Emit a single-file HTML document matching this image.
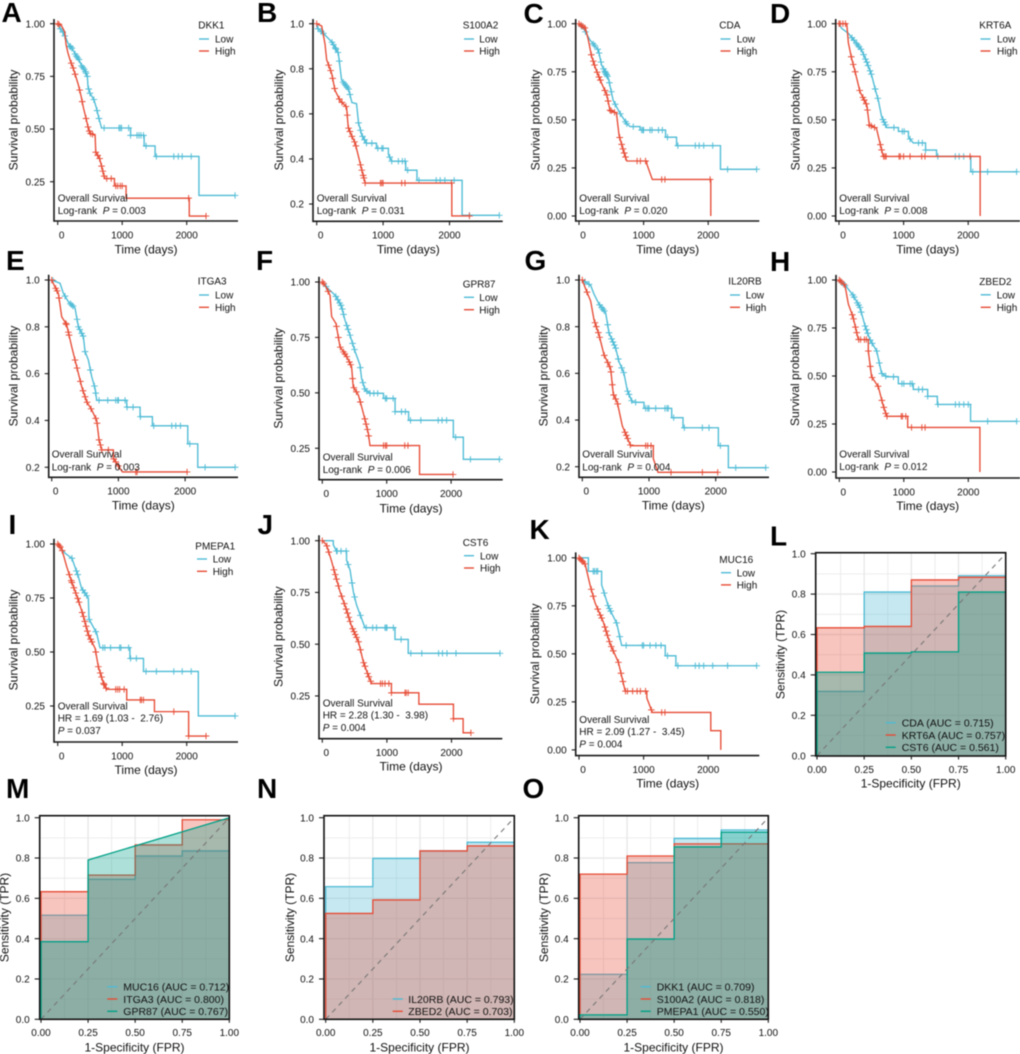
<!DOCTYPE html>
<html lang="en">
<head>
<meta charset="utf-8">
<title>Survival and ROC panels</title>
<style>
html,body{margin:0;padding:0;background:#fff;}
#figure{display:block;width:1020px;height:1054px;filter:blur(0.4px);}
#figure text{font-family:"Liberation Sans",Arial,sans-serif;fill:#111;font-size:10px;white-space:pre;}
#figure text.letter{font-size:28px;font-weight:bold;fill:#000;}
#figure text.title{font-size:12px;text-anchor:middle;}
#figure text.auc{font-size:10.5px;}
#figure text.tick{font-size:10px;}
</style>
</head>
<body>
<svg id="figure" xmlns="http://www.w3.org/2000/svg" width="1020" height="1054" viewBox="0 0 1020 1054">
<rect x="0" y="0" width="1020" height="1054" fill="#fff"/>

<g>
<g id="plot-a"></g>
<text class="letter" x="1.5" y="22">A</text>
<text class="title" transform="translate(17.5,120) rotate(-90)">Survival probability</text>
<text class="title" x="146" y="253.5">Time (days)</text>
<text x="198.3" y="28.6">DKK1</text>
<line x1="199" x2="209" y1="39" y2="39" stroke="#4DBBD5" stroke-width="1.4"/>
<text x="215" y="42.6">Low</text>
<line x1="199" x2="209" y1="51" y2="51" stroke="#E64B35" stroke-width="1.4"/>
<text x="215" y="54.6">High</text>
<text x="57.7" y="201.3">Overall Survival</text>
<text x="57.7" y="213.9">Log-rank  <tspan font-style="italic">P</tspan> = 0.003</text>
</g>

<g>
<g id="plot-b"></g>
<text class="letter" x="257" y="22">B</text>
<text class="title" transform="translate(283,120) rotate(-90)">Survival probability</text>
<text class="title" x="408.3" y="253.5">Time (days)</text>
<text x="462.7" y="28.6">S100A2</text>
<line x1="464" x2="474" y1="39" y2="39" stroke="#4DBBD5" stroke-width="1.4"/>
<text x="479.3" y="42.6">Low</text>
<line x1="464" x2="474" y1="51" y2="51" stroke="#E64B35" stroke-width="1.4"/>
<text x="479.3" y="54.6">High</text>
<text x="316.7" y="201.3">Overall Survival</text>
<text x="316.7" y="213.9">Log-rank  <tspan font-style="italic">P</tspan> = 0.031</text>
</g>

<g>
<g id="plot-c"></g>
<text class="letter" x="523.5" y="23">C</text>
<text class="title" transform="translate(539.7,120) rotate(-90)">Survival probability</text>
<text class="title" x="667.7" y="253.5">Time (days)</text>
<text x="719.3" y="28.6">CDA</text>
<line x1="720.5" x2="730.5" y1="39" y2="39" stroke="#4DBBD5" stroke-width="1.4"/>
<text x="736.7" y="42.6">Low</text>
<line x1="720.5" x2="730.5" y1="51" y2="51" stroke="#E64B35" stroke-width="1.4"/>
<text x="736.7" y="54.6">High</text>
<text x="579.3" y="201.3">Overall Survival</text>
<text x="579.3" y="213.9">Log-rank  <tspan font-style="italic">P</tspan> = 0.020</text>
</g>

<g>
<g id="plot-d"></g>
<text class="letter" x="770" y="23">D</text>
<text class="title" transform="translate(799.7,120) rotate(-90)">Survival probability</text>
<text class="title" x="927.7" y="253.5">Time (days)</text>
<text x="979.3" y="28.6">KRT6A</text>
<line x1="980.5" x2="990.5" y1="39" y2="39" stroke="#4DBBD5" stroke-width="1.4"/>
<text x="997" y="42.6">Low</text>
<line x1="980.5" x2="990.5" y1="51" y2="51" stroke="#E64B35" stroke-width="1.4"/>
<text x="997" y="54.6">High</text>
<text x="839.3" y="201.3">Overall Survival</text>
<text x="839.3" y="213.9">Log-rank  <tspan font-style="italic">P</tspan> = 0.008</text>
</g>

<g>
<g id="plot-e"></g>
<text class="letter" x="6" y="270">E</text>
<text class="title" transform="translate(17.5,376) rotate(-90)">Survival probability</text>
<text class="title" x="143.3" y="509.7">Time (days)</text>
<text x="197.7" y="284.3">ITGA3</text>
<line x1="199" x2="209" y1="295" y2="295" stroke="#4DBBD5" stroke-width="1.4"/>
<text x="215" y="298.6">Low</text>
<line x1="199" x2="209" y1="307.3" y2="307.3" stroke="#E64B35" stroke-width="1.4"/>
<text x="215" y="310.9">High</text>
<text x="51.7" y="457.6">Overall Survival</text>
<text x="51.7" y="470.3">Log-rank  <tspan font-style="italic">P</tspan> = 0.003</text>
</g>

<g>
<g id="plot-f"></g>
<text class="letter" x="256" y="270">F</text>
<text class="title" transform="translate(282.3,378.3) rotate(-90)">Survival probability</text>
<text class="title" x="411" y="512.3">Time (days)</text>
<text x="462.7" y="287.6">GPR87</text>
<line x1="464" x2="474" y1="297.3" y2="297.3" stroke="#4DBBD5" stroke-width="1.4"/>
<text x="479.3" y="300.9">Low</text>
<line x1="464" x2="474" y1="309.7" y2="309.7" stroke="#E64B35" stroke-width="1.4"/>
<text x="479.3" y="313.3">High</text>
<text x="322.7" y="460.3">Overall Survival</text>
<text x="322.7" y="472.9">Log-rank  <tspan font-style="italic">P</tspan> = 0.006</text>
</g>

<g>
<g id="plot-g"></g>
<text class="letter" x="524.5" y="270">G</text>
<text class="title" transform="translate(547.3,376) rotate(-90)">Survival probability</text>
<text class="title" x="673.3" y="509.7">Time (days)</text>
<text x="728.3" y="284.3">IL20RB</text>
<line x1="730" x2="740" y1="295" y2="295" stroke="#4DBBD5" stroke-width="1.4"/>
<text x="745.7" y="298.6">Low</text>
<line x1="730" x2="740" y1="307.3" y2="307.3" stroke="#E64B35" stroke-width="1.4"/>
<text x="745.7" y="310.9">High</text>
<text x="582.3" y="457.6">Overall Survival</text>
<text x="582.3" y="470.3">Log-rank  <tspan font-style="italic">P</tspan> = 0.004</text>
</g>

<g>
<g id="plot-h"></g>
<text class="letter" x="770" y="271">H</text>
<text class="title" transform="translate(799,375.6) rotate(-90)">Survival probability</text>
<text class="title" x="927.7" y="509.8">Time (days)</text>
<text x="979.3" y="284.9">ZBED2</text>
<line x1="980.7" x2="990.7" y1="294.8" y2="294.8" stroke="#4DBBD5" stroke-width="1.4"/>
<text x="996.7" y="298.4">Low</text>
<line x1="980.7" x2="990.7" y1="307.3" y2="307.3" stroke="#E64B35" stroke-width="1.4"/>
<text x="996.7" y="310.9">High</text>
<text x="839.3" y="457.6">Overall Survival</text>
<text x="839.3" y="470.2">Log-rank  <tspan font-style="italic">P</tspan> = 0.012</text>
</g>

<g>
<g id="plot-i"></g>
<text class="letter" x="8.5" y="534">I</text>
<text class="title" transform="translate(17.5,640) rotate(-90)">Survival probability</text>
<text class="title" x="146" y="774">Time (days)</text>
<text x="195.3" y="549.3">PMEPA1</text>
<line x1="197" x2="207" y1="559" y2="559" stroke="#4DBBD5" stroke-width="1.4"/>
<text x="212.7" y="562.6">Low</text>
<line x1="197" x2="207" y1="571.3" y2="571.3" stroke="#E64B35" stroke-width="1.4"/>
<text x="212.7" y="574.9">High</text>
<text x="57.7" y="709.3">Overall Survival</text>
<text x="57.7" y="721.6">HR = 1.69 (1.03 -  2.76)</text>
<text x="57.7" y="733.9"><tspan font-style="italic">P</tspan> = 0.037</text>
</g>

<g>
<g id="plot-j"></g>
<text class="letter" x="257.5" y="534">J</text>
<text class="title" transform="translate(282.3,636.7) rotate(-90)">Survival probability</text>
<text class="title" x="411" y="770.7">Time (days)</text>
<text x="462.7" y="545.9">CST6</text>
<line x1="464" x2="474" y1="555.7" y2="555.7" stroke="#4DBBD5" stroke-width="1.4"/>
<text x="480" y="559.3">Low</text>
<line x1="464" x2="474" y1="568" y2="568" stroke="#E64B35" stroke-width="1.4"/>
<text x="480" y="571.6">High</text>
<text x="322.7" y="706.3">Overall Survival</text>
<text x="322.7" y="718.6">HR = 2.28 (1.30 -  3.98)</text>
<text x="322.7" y="730.9"><tspan font-style="italic">P</tspan> = 0.004</text>
</g>

<g>
<g id="plot-k"></g>
<text class="letter" x="529.5" y="539">K</text>
<text class="title" transform="translate(539,653.8) rotate(-90)">Survival probability</text>
<text class="title" x="667.7" y="787.3">Time (days)</text>
<text x="719.3" y="562.8">MUC16</text>
<line x1="721" x2="731" y1="572.7" y2="572.7" stroke="#4DBBD5" stroke-width="1.4"/>
<text x="736.7" y="576.3">Low</text>
<line x1="721" x2="731" y1="584.9" y2="584.9" stroke="#E64B35" stroke-width="1.4"/>
<text x="736.7" y="588.5">High</text>
<text x="579.3" y="723">Overall Survival</text>
<text x="579.3" y="735.2">HR = 2.09 (1.27 -  3.45)</text>
<text x="579.3" y="747.7"><tspan font-style="italic">P</tspan> = 0.004</text>
</g>

<g>
<g id="plot-l"></g>
<text class="letter" x="770" y="545.5">L</text>
<text class="title" transform="translate(784.7,654.5) rotate(-90)">Sensitivity (TPR)</text>
<text class="title" x="910.7" y="787.3">1-Specificity (FPR)</text>
<line x1="885.7" x2="895.7" y1="722.7" y2="722.7" stroke="#4DBBD5" stroke-width="1.4"/>
<text class="auc" x="901.7" y="726.5">CDA (AUC = 0.715)</text>
<line x1="885.7" x2="895.7" y1="735" y2="735" stroke="#E64B35" stroke-width="1.4"/>
<text class="auc" x="901.7" y="738.8">KRT6A (AUC = 0.757)</text>
<line x1="885.7" x2="895.7" y1="747.3" y2="747.3" stroke="#00A087" stroke-width="1.4"/>
<text class="auc" x="901.7" y="751.1">CST6 (AUC = 0.561)</text>
</g>

<g>
<g id="plot-m"></g>
<text class="letter" x="6" y="798">M</text>
<text class="title" transform="translate(8.7,917.5) rotate(-90)">Sensitivity (TPR)</text>
<text class="title" x="134.5" y="1051.5">1-Specificity (FPR)</text>
<line x1="107.3" x2="117.3" y1="986.7" y2="986.7" stroke="#4DBBD5" stroke-width="1.4"/>
<text class="auc" x="123.3" y="990.5">MUC16 (AUC = 0.712)</text>
<line x1="107.3" x2="117.3" y1="999" y2="999" stroke="#E64B35" stroke-width="1.4"/>
<text class="auc" x="123.3" y="1002.8">ITGA3 (AUC = 0.800)</text>
<line x1="107.3" x2="117.3" y1="1011.3" y2="1011.3" stroke="#00A087" stroke-width="1.4"/>
<text class="auc" x="123.3" y="1015.1">GPR87 (AUC = 0.767)</text>
</g>

<g>
<g id="plot-n"></g>
<text class="letter" x="257" y="798">N</text>
<text class="title" transform="translate(294,917.5) rotate(-90)">Sensitivity (TPR)</text>
<text class="title" x="419.5" y="1051.5">1-Specificity (FPR)</text>
<line x1="392.7" x2="402.7" y1="999" y2="999" stroke="#4DBBD5" stroke-width="1.4"/>
<text class="auc" x="408.3" y="1002.8">IL20RB (AUC = 0.793)</text>
<line x1="392.7" x2="402.7" y1="1011.3" y2="1011.3" stroke="#E64B35" stroke-width="1.4"/>
<text class="auc" x="408.3" y="1015.1">ZBED2 (AUC = 0.703)</text>
</g>

<g>
<g id="plot-o"></g>
<text class="letter" x="522.5" y="798">O</text>
<text class="title" transform="translate(548,917.5) rotate(-90)">Sensitivity (TPR)</text>
<text class="title" x="673.5" y="1051.5">1-Specificity (FPR)</text>
<line x1="640.7" x2="650.7" y1="986.7" y2="986.7" stroke="#4DBBD5" stroke-width="1.4"/>
<text class="auc" x="656.7" y="990.5">DKK1 (AUC = 0.709)</text>
<line x1="640.7" x2="650.7" y1="999" y2="999" stroke="#E64B35" stroke-width="1.4"/>
<text class="auc" x="656.7" y="1002.8">S100A2 (AUC = 0.818)</text>
<line x1="640.7" x2="650.7" y1="1011.3" y2="1011.3" stroke="#00A087" stroke-width="1.4"/>
<text class="auc" x="656.7" y="1015.1">PMEPA1 (AUC = 0.550)</text>
</g>
</svg>

<script>
/* ---------- Kaplan-Meier values ---------- */
const timeTicks = [0, 1000, 2000];
const survTicksQuarterFrom25 = [1, 0.75, 0.5, 0.25];
const survTicksFifthFrom20 = [1, 0.8, 0.6, 0.4, 0.2];
const survTicksQuarterFrom0 = [1, 0.75, 0.5, 0.25, 0];

const dkk1LowDays = [0,30,80,130,170,230,280,330,370,420,460,470,500,560,600,640,680,1130,1340,1510,2190,2750];
const dkk1LowSurv = [1,.98,.96,.93,.90,.88,.85,.83,.80,.78,.75,.70,.67,.64,.60,.55,.505,.47,.42,.37,.185,.185];
const dkk1LowCensor = [40,80,110,190,200,220,270,290,310,330,370,390,410,430,440,460,480,500,560,610,640,720,950,970,990,1100,1130,1230,1260,1290,1330,1370,1530,1800,1870,1930,2070,2750];
const dkk1HighDays = [0,60,110,130,160,200,240,280,320,360,400,440,470,500,580,590,650,700,730,880,1060,2040,2300];
const dkk1HighSurv = [1,.99,.96,.90,.86,.82,.79,.75,.71,.66,.60,.55,.51,.48,.47,.39,.36,.30,.265,.23,.172,.087,.087];
const dkk1HighCensor = [0,20,210,240,270,340,380,440,470,490,510,540,590,620,650,680,700,720,760,830,900,930,970,1000,2030,2300];

const s100a2LowDays = [0,10,100,225,325,375,480,530,600,630,680,750,900,1080,1130,1340,1510,2190,2750];
const s100a2LowSurv = [1,.98,.957,.92,.87,.75,.71,.65,.645,.56,.505,.47,.447,.42,.39,.35,.305,.15,.15];
const s100a2LowCensor = [20,70,100,230,250,280,290,320,340,400,420,440,460,480,500,630,660,690,720,750,830,920,980,1000,1100,1130,1230,1290,1330,1370,1540,1800,1860,1930,2070,2300,2750];
const s100a2HighDays = [0,75,125,150,225,275,350,450,475,530,580,630,680,730,2035,2300];
const s100a2HighSurv = [1,.99,.91,.84,.78,.705,.66,.63,.54,.50,.47,.41,.35,.293,.147,.147];
const s100a2HighCensor = [0,180,210,240,270,340,380,440,460,480,500,530,570,590,660,680,700,710,730,960,980,1000,1280,1330,2030,2300];

const cdaLowDays = [0,70,170,300,350,455,530,635,740,790,945,1340,1510,2190,2750];
const cdaLowSurv = [1,.976,.915,.863,.785,.716,.60,.534,.48,.465,.447,.41,.366,.243,.243];
const cdaLowCensor = [40,100,220,240,290,310,340,380,400,410,420,430,440,470,500,560,640,720,740,840,970,990,1000,1100,1130,1230,1290,1370,1530,1800,1860,1930,2070,2300,2750];
const cdaHighDays = [0,100,145,195,265,350,430,480,580,620,685,740,1050,1135,2040];
const cdaHighSurv = [1,.976,.915,.83,.76,.69,.63,.55,.534,.42,.343,.286,.27,.19,0];
const cdaHighCensor = [0,30,60,90,190,220,240,280,310,330,400,430,450,480,500,550,630,660,680,700,720,900,950,1030,1280,1330,2030];

const krt6aLowDays = [0,40,145,250,350,430,505,557,610,660,740,920,1075,1150,1340,1510,2040,2750];
const krt6aLowSurv = [1,.976,.95,.906,.863,.80,.733,.664,.60,.516,.46,.44,.41,.38,.343,.31,.23,.23];
const krt6aLowCensor = [200,230,270,290,310,340,380,410,430,450,480,500,560,600,680,700,720,850,980,1010,1100,1230,1290,1340,1530,1800,1860,1930,2070,2300,2750];
const krt6aHighDays = [0,120,145,195,250,325,430,470,580,635,685,2185];
const krt6aHighSurv = [1,1,.90,.82,.75,.646,.577,.473,.456,.378,.31,0];
const krt6aHighCensor = [0,20,60,100,190,220,250,320,370,390,420,440,470,500,550,640,660,690,710,730,930,950,1000,1100,1280,1330,2030];

const itga3LowDays = [0,125,175,250,350,400,475,500,550,600,650,675,1125,1325,1510,2040,2190,2750];
const itga3LowSurv = [1,.986,.943,.907,.88,.80,.758,.694,.658,.587,.537,.486,.457,.416,.377,.30,.20,.20];
const itga3LowCensor = [20,200,280,300,320,380,400,420,450,470,500,580,640,660,710,840,960,990,1000,1100,1130,1220,1330,1530,1800,1860,1930,2070,2300,2750];
const itga3HighDays = [0,50,100,150,225,300,350,450,525,600,675,710,750,925,1060,2030];
const itga3HighSurv = [1,.97,.943,.843,.808,.715,.658,.544,.48,.445,.40,.317,.274,.238,.18,.18];
const itga3HighCensor = [0,60,80,110,210,220,250,260,350,380,430,470,500,530,590,660,680,710,730,750,850,930,960,1000,1260,1280,2030];

const gpr87LowDays = [0,90,200,300,350,430,510,585,610,665,740,950,1130,1340,2035,2190,2750];
const gpr87LowSurv = [1,.97,.94,.89,.83,.76,.686,.626,.565,.513,.498,.475,.415,.376,.30,.20,.20];
const gpr87LowCensor = [60,210,240,270,290,310,330,380,400,430,470,500,590,630,660,690,740,800,860,980,1000,1100,1130,1230,1290,1370,1530,1800,1860,1930,2070,2300,2750];
const gpr87HighDays = [0,40,120,145,212,275,380,455,480,560,610,665,715,740,1510,2030];
const gpr87HighSurv = [1,.987,.94,.844,.813,.708,.663,.618,.528,.49,.438,.377,.317,.262,.132,.132];
const gpr87HighCensor = [0,20,90,220,250,280,330,350,380,420,440,470,490,530,590,660,680,700,720,950,980,1000,1280,1330,2030];

const il20rbLowDays = [0,125,175,250,350,400,500,550,625,675,750,925,1340,1510,2040,2190,2750];
const il20rbLowSurv = [1,.977,.94,.897,.86,.774,.708,.65,.60,.527,.476,.45,.41,.367,.29,.196,.196];
const il20rbLowCensor = [40,100,260,290,310,330,380,400,440,460,480,500,540,590,620,680,700,740,800,950,980,1000,1100,1240,1270,1290,1370,1530,1800,1900,2070,2300,2750];
const il20rbHighDays = [0,50,125,175,250,325,425,465,525,600,725,1065,1135,2030];
const il20rbHighSurv = [1,.962,.91,.83,.766,.68,.62,.51,.476,.375,.29,.234,.176,.176];
const il20rbHighCensor = [0,70,190,210,240,260,330,380,410,430,450,470,500,530,640,660,680,720,950,980,1030,1330,1800,2030];

const zbed2LowDays = [0,115,215,320,400,475,580,655,735,915,1147,1370,1520,2035,2750];
const zbed2LowSurv = [1,.963,.92,.857,.76,.69,.63,.514,.496,.46,.43,.394,.352,.264,.264];
const zbed2LowCensor = [40,90,210,230,280,300,320,340,400,420,440,480,510,580,620,660,720,840,970,1000,1100,1130,1230,1290,1370,1530,1800,1860,1930,2000,2300,2750];
const zbed2HighDays = [0,88,140,215,295,450,500,605,680,735,1060,2180];
const zbed2HighSurv = [1,.972,.875,.805,.69,.63,.497,.444,.347,.29,.232,0];
const zbed2HighCensor = [0,20,70,200,220,250,270,300,330,390,420,450,480,510,600,660,690,720,740,960,980,1030,1120,1280,1330];

const pmepa1LowDays = [0,115,220,320,370,475,485,605,655,1120,1330,2180,2750];
const pmepa1LowSurv = [1,.957,.934,.85,.795,.75,.653,.586,.52,.47,.41,.204,.204];
const pmepa1LowCensor = [220,290,310,390,420,450,490,590,700,730,820,960,980,1100,1130,1220,1370,1530,1800,1930,2070,2750];
const pmepa1HighDays = [0,60,140,215,320,400,475,580,630,710,760,1070,1500,2030,2300];
const pmepa1HighSurv = [1,.98,.895,.826,.74,.664,.58,.517,.432,.355,.327,.278,.224,.111,.111];
const pmepa1HighCensor = [0,20,40,70,180,210,220,250,280,310,330,380,400,420,440,460,480,510,530,590,630,660,680,710,720,750,900,930,960,1030,1280,1300,1330,1800,2030,2300];

const cst6LowDays = [0,170,220,375,430,480,530,660,1125,1330,2750];
const cst6LowSurv = [1,.98,.95,.907,.858,.754,.69,.58,.523,.456,.456];
const cst6LowCensor = [220,230,290,370,400,460,500,590,680,780,840,970,990,1000,1100,1220,1370,1540,1800,1860,1930,2070,2750];
const cst6HighDays = [0,65,145,195,275,375,455,560,635,710,765,1070,1495,2030,2180,2300];
const cst6HighSurv = [1,.98,.9,.842,.754,.665,.585,.512,.415,.35,.31,.265,.21,.14,.072,.072];
const cst6HighCensor = [0,70,100,180,200,220,250,300,340,370,390,410,430,470,490,510,530,560,590,640,660,700,720,750,900,930,970,1030,1070,1280,1300,1330,2030,2300];

const muc16LowDays = [0,145,350,455,585,660,1335,1500,2750];
const muc16LowSurv = [1,.93,.86,.746,.658,.544,.49,.438,.438];
const muc16LowCensor = [220,240,270,290,390,450,470,490,580,630,730,980,1000,1100,1190,1270,1370,1530,1800,1860,1930,2070,2300,2750];
const muc16HighDays = [0,95,170,250,375,480,610,715,1050,1135,2040,2195];
const muc16HighSurv = [1,.967,.86,.764,.667,.553,.456,.306,.27,.195,.1,0];
const muc16HighCensor = [0,20,40,60,90,190,220,290,330,350,400,420,440,470,500,530,610,650,680,720,750,830,900,950,1030,1120,1280,1330];

/* ---------- ROC values ---------- */
const rocTicksX = [0, 0.25, 0.5, 0.75, 1];
const rocTicksY = [0, 0.2, 0.4, 0.6, 0.8, 1];
const stepFpr = [0, 0, 0.25, 0.25, 0.5, 0.5, 0.75, 0.75, 1];

const cdaTpr = [0,.318,.318,.81,.81,.84,.84,.891,.891];
const krt6aTpr = [0,.633,.633,.64,.64,.87,.87,.883,.883];
const cst6Tpr = [0,.413,.413,.508,.508,.514,.514,.81,.81];
const muc16Tpr = [0,.516,.516,.694,.694,.81,.81,.835,.835];
const itga3Tpr = [0,.633,.633,.715,.715,.865,.865,.99,.99];
const gpr87Fpr = [0, 0, 0.25, 0.25, 1];
const gpr87Tpr = [0,.385,.385,.79,1];
const il20rbTpr = [0,.658,.658,.798,.798,.835,.835,.878,.878];
const zbed2Tpr = [0,.525,.525,.592,.592,.835,.835,.86,.86];
const dkk1Tpr = [0,.223,.223,.777,.777,.897,.897,.939,.939];
const s100a2Tpr = [0,.72,.72,.81,.81,.87,.87,.87,.87];
const pmepa1Tpr = [0,.022,.022,.398,.398,.855,.855,.928,.928];

/* ---------- panel layout (pixels) ---------- */
const kmPanels = [
 {id:'a',axisLeft:54,x0:57.7,perDay:.0645,right:238,top:19,bottom:221,y1:23.7,unit:210.7,dec:2,ticks:survTicksQuarterFrom25,lowT:dkk1LowDays,lowS:dkk1LowSurv,lowC:dkk1LowCensor,highT:dkk1HighDays,highS:dkk1HighSurv,highC:dkk1HighCensor},
 {id:'b',axisLeft:313,x0:316.7,perDay:.0664,right:502.7,top:19,bottom:221.3,y1:23.7,unit:225.4,dec:1,ticks:survTicksFifthFrom20,lowT:s100a2LowDays,lowS:s100a2LowSurv,lowC:s100a2LowCensor,highT:s100a2HighDays,highS:s100a2HighSurv,highC:s100a2HighCensor},
 {id:'c',axisLeft:575.7,x0:579,perDay:.0646,right:759.3,top:19,bottom:221,y1:23.7,unit:192.3,dec:2,ticks:survTicksQuarterFrom0,lowT:cdaLowDays,lowS:cdaLowSurv,lowC:cdaLowCensor,highT:cdaHighDays,highS:cdaHighSurv,highC:cdaHighCensor},
 {id:'d',axisLeft:835.7,x0:839,perDay:.0646,right:1020,top:19,bottom:221,y1:23.7,unit:192.3,dec:2,ticks:survTicksQuarterFrom0,lowT:krt6aLowDays,lowS:krt6aLowSurv,lowC:krt6aLowCensor,highT:krt6aHighDays,highS:krt6aHighSurv,highC:krt6aHighCensor},
 {id:'e',axisLeft:48.7,x0:51.7,perDay:.0667,right:238,top:274.7,bottom:477.3,y1:280,unit:234.1,dec:1,ticks:survTicksFifthFrom20,lowT:itga3LowDays,lowS:itga3LowSurv,lowC:itga3LowCensor,highT:itga3HighDays,highS:itga3HighSurv,highC:itga3HighCensor},
 {id:'f',axisLeft:319,x0:322.3,perDay:.0644,right:502.7,top:276.7,bottom:479.7,y1:282,unit:221.7,dec:2,ticks:survTicksQuarterFrom25,lowT:gpr87LowDays,lowS:gpr87LowSurv,lowC:gpr87LowCensor,highT:gpr87HighDays,highS:gpr87HighSurv,highC:gpr87HighCensor},
 {id:'g',axisLeft:579,x0:582.3,perDay:.0667,right:769,top:274.7,bottom:477.3,y1:280,unit:233.4,dec:1,ticks:survTicksFifthFrom20,lowT:il20rbLowDays,lowS:il20rbLowSurv,lowC:il20rbLowCensor,highT:il20rbHighDays,highS:il20rbHighSurv,highC:il20rbHighCensor},
 {id:'h',axisLeft:836,x0:839.3,perDay:.0645,right:1020,top:274.9,bottom:478,y1:280,unit:192,dec:2,ticks:survTicksQuarterFrom0,lowT:zbed2LowDays,lowS:zbed2LowSurv,lowC:zbed2LowCensor,highT:zbed2HighDays,highS:zbed2HighSurv,highC:zbed2HighCensor},
 {id:'i',axisLeft:54,x0:57.7,perDay:.0645,right:238,top:538.7,bottom:742,y1:544,unit:216,dec:2,ticks:survTicksQuarterFrom25,lowT:pmepa1LowDays,lowS:pmepa1LowSurv,lowC:pmepa1LowCensor,highT:pmepa1HighDays,highS:pmepa1HighSurv,highC:pmepa1HighCensor},
 {id:'j',axisLeft:319,x0:322.3,perDay:.0646,right:502.3,top:535.3,bottom:738.7,y1:540.7,unit:207,dec:2,ticks:survTicksQuarterFrom25,lowT:cst6LowDays,lowS:cst6LowSurv,lowC:cst6LowCensor,highT:cst6HighDays,highS:cst6HighSurv,highC:cst6HighCensor},
 {id:'k',axisLeft:575.7,x0:579,perDay:.0646,right:759.3,top:552.4,bottom:755.6,y1:557.8,unit:192.1,dec:2,ticks:survTicksQuarterFrom0,lowT:muc16LowDays,lowS:muc16LowSurv,lowC:muc16LowCensor,highT:muc16HighDays,highS:muc16HighSurv,highC:muc16HighCensor}
];
const rocPanels = [
 {id:'l',left:815.7,right:1005.7,top:552.7,bottom:756,x0:817,x1:1005.7,y1:553.7,y0:755.7,series:[['cda',stepFpr,cdaTpr,'#4DBBD5'],['krt6a',stepFpr,krt6aTpr,'#E64B35'],['cst6',stepFpr,cst6Tpr,'#00A087']]},
 {id:'m',left:39.7,right:229.3,top:815.7,bottom:1019.3,x0:41,x1:229.3,y1:817.7,y0:1019.3,series:[['muc16',stepFpr,muc16Tpr,'#4DBBD5'],['itga3',stepFpr,itga3Tpr,'#E64B35'],['gpr87',gpr87Fpr,gpr87Tpr,'#00A087']]},
 {id:'n',left:324,right:514.3,top:815.7,bottom:1019.3,x0:325.7,x1:514.3,y1:817.7,y0:1019.3,series:[['il20rb',stepFpr,il20rbTpr,'#4DBBD5'],['zbed2',stepFpr,zbed2Tpr,'#E64B35']]},
 {id:'o',left:578.7,right:768.3,top:815.7,bottom:1019.3,x0:580,x1:768.3,y1:817.7,y0:1019.3,series:[['dkk1',stepFpr,dkk1Tpr,'#4DBBD5'],['s100a2',stepFpr,s100a2Tpr,'#E64B35'],['pmepa1',stepFpr,pmepa1Tpr,'#00A087']]}
];

const SVG_NS = 'http://www.w3.org/2000/svg';
const AXIS_COLOR = '#1a1a1a';
const STEP_GAP = 135;

function add(parent, tag, attrs) {
  const el = document.createElementNS(SVG_NS, tag);
  for (const k in attrs) el.setAttribute(k, attrs[k]);
  parent.appendChild(el);
  return el;
}

function survAt(days, surv, t) {
  for (let i = days.length - 1; i >= 0; i--) {
    if (t >= days[i]) {
      if (i === days.length - 1) return surv[i];
      const gap = days[i + 1] - days[i];
      if (gap > STEP_GAP) return surv[i];
      return surv[i] + (surv[i + 1] - surv[i]) * (t - days[i]) / gap;
    }
  }
  return surv[0];
}

function drawKmCurve(g, p, name, color, days, surv, censor) {
  const X = t => p.x0 + t * p.perDay;
  const Y = s => p.y1 + (1 - s) * p.unit;
  let d = 'M' + X(days[0]).toFixed(2) + ' ' + Y(surv[0]).toFixed(2);
  for (let i = 1; i < days.length; i++) {
    if (days[i] - days[i - 1] > STEP_GAP) {
      d += 'H' + X(days[i]).toFixed(2) + 'V' + Y(surv[i]).toFixed(2);
    } else {
      d += 'L' + X(days[i]).toFixed(2) + ' ' + Y(surv[i]).toFixed(2);
    }
  }
  const line = add(g, 'path', {d: d, fill: 'none', stroke: color, 'stroke-width': 1.35});
  
  
  censor.forEach(function (t) {
    const cx = X(t), cy = Y(survAt(days, surv, t));
    const mark = add(g, 'path', {d: 'M' + (cx - 3.3).toFixed(2) + ' ' + cy.toFixed(2) + 'h6.6M' + cx.toFixed(2) + ' ' + (cy - 3.2).toFixed(2) + 'v6.4', fill: 'none', stroke: color, 'stroke-width': 0.95});
    
    
  });
}

kmPanels.forEach(function (p) {
  const g = document.getElementById('plot-' + p.id);
  drawKmCurve(g, p, 'low', '#4DBBD5', p.lowT, p.lowS, p.lowC);
  drawKmCurve(g, p, 'high', '#E64B35', p.highT, p.highS, p.highC);

  const yAxis = add(g, 'line', {x1: p.axisLeft, x2: p.axisLeft, y1: p.top, y2: p.bottom + 0.8, stroke: AXIS_COLOR, 'stroke-width': 1.6});
  
  
  const xAxis = add(g, 'line', {x1: p.axisLeft, x2: p.right, y1: p.bottom, y2: p.bottom, stroke: AXIS_COLOR, 'stroke-width': 1.6});
  
  

  p.ticks.forEach(function (v) {
    const y = p.y1 + (1 - v) * p.unit;
    const tk = add(g, 'line', {x1: p.axisLeft - 4, x2: p.axisLeft, y1: y, y2: y, stroke: AXIS_COLOR, 'stroke-width': 1.1});
    
    
    const lb = add(g, 'text', {class: 'tick', x: p.axisLeft - 9, y: y + 3.6, 'text-anchor': 'end'});
    lb.textContent = v.toFixed(p.dec);
    
    
  });
  timeTicks.forEach(function (t) {
    const x = p.x0 + t * p.perDay;
    const tk = add(g, 'line', {x1: x, x2: x, y1: p.bottom, y2: p.bottom + 4, stroke: AXIS_COLOR, 'stroke-width': 1.1});
    
    
    const lb = add(g, 'text', {class: 'tick', x: t === 0 ? x + 4 : x, y: p.bottom + 17.3, 'text-anchor': 'middle'});
    lb.textContent = String(t);
    
    
  });
});

rocPanels.forEach(function (p) {
  const g = document.getElementById('plot-' + p.id);
  const X = v => p.x0 + v * (p.x1 - p.x0);
  const Y = v => p.y0 - v * (p.y0 - p.y1);

  [.125, .25, .375, .5, .625, .75, .875].forEach(function (v, i) {
    const gl = add(g, 'line', {x1: X(v), x2: X(v), y1: p.top, y2: p.bottom, stroke: '#e8e8e8', 'stroke-width': i % 2 ? 1.4 : 0.8});
    
    
  });
  [.1, .2, .3, .4, .5, .6, .7, .8, .9].forEach(function (v, i) {
    const gl = add(g, 'line', {x1: p.left, x2: p.right, y1: Y(v), y2: Y(v), stroke: '#e8e8e8', 'stroke-width': i % 2 ? 1.4 : 0.8});
    
    
  });

  p.series.forEach(function (s) {
    const fpr = s[1], tpr = s[2], color = s[3];
    let d = '';
    fpr.forEach(function (f, i) {
      d += (i ? 'L' : 'M') + X(f).toFixed(2) + ' ' + Y(tpr[i]).toFixed(2);
    });
    const area = add(g, 'path', {d: d + 'L' + X(fpr[fpr.length - 1]).toFixed(2) + ' ' + Y(0).toFixed(2) + 'Z', fill: color, 'fill-opacity': 0.32, stroke: 'none'});
    
    
    const line = add(g, 'path', {d: d, fill: 'none', stroke: color, 'stroke-width': 1.3});
    
    
  });

  const diag = add(g, 'line', {x1: X(0), y1: Y(0), x2: X(1), y2: Y(1), stroke: '#777', 'stroke-width': 1.1, 'stroke-dasharray': '5 4.5'});
  
  

  const frame = add(g, 'rect', {x: p.left, y: p.top, width: p.right - p.left, height: p.bottom - p.top, fill: 'none', stroke: '#111', 'stroke-width': 1.6});
  
  

  rocTicksX.forEach(function (v) {
    const tk = add(g, 'line', {x1: X(v), x2: X(v), y1: p.bottom, y2: p.bottom + 3.5, stroke: AXIS_COLOR, 'stroke-width': 1.1});
    
    
    const lb = add(g, 'text', {class: 'tick', x: X(v), y: p.bottom + 16.8, 'text-anchor': 'middle'});
    lb.textContent = v.toFixed(2);
    
    
  });
  rocTicksY.forEach(function (v) {
    const tk = add(g, 'line', {x1: p.left - 5, x2: p.left, y1: Y(v), y2: Y(v), stroke: AXIS_COLOR, 'stroke-width': 1.1});
    
    
    const lb = add(g, 'text', {class: 'tick', x: p.left - 10, y: Y(v) + 3.6, 'text-anchor': 'end'});
    lb.textContent = v.toFixed(1);
    
    
  });
});
</script>
</body>
</html>
